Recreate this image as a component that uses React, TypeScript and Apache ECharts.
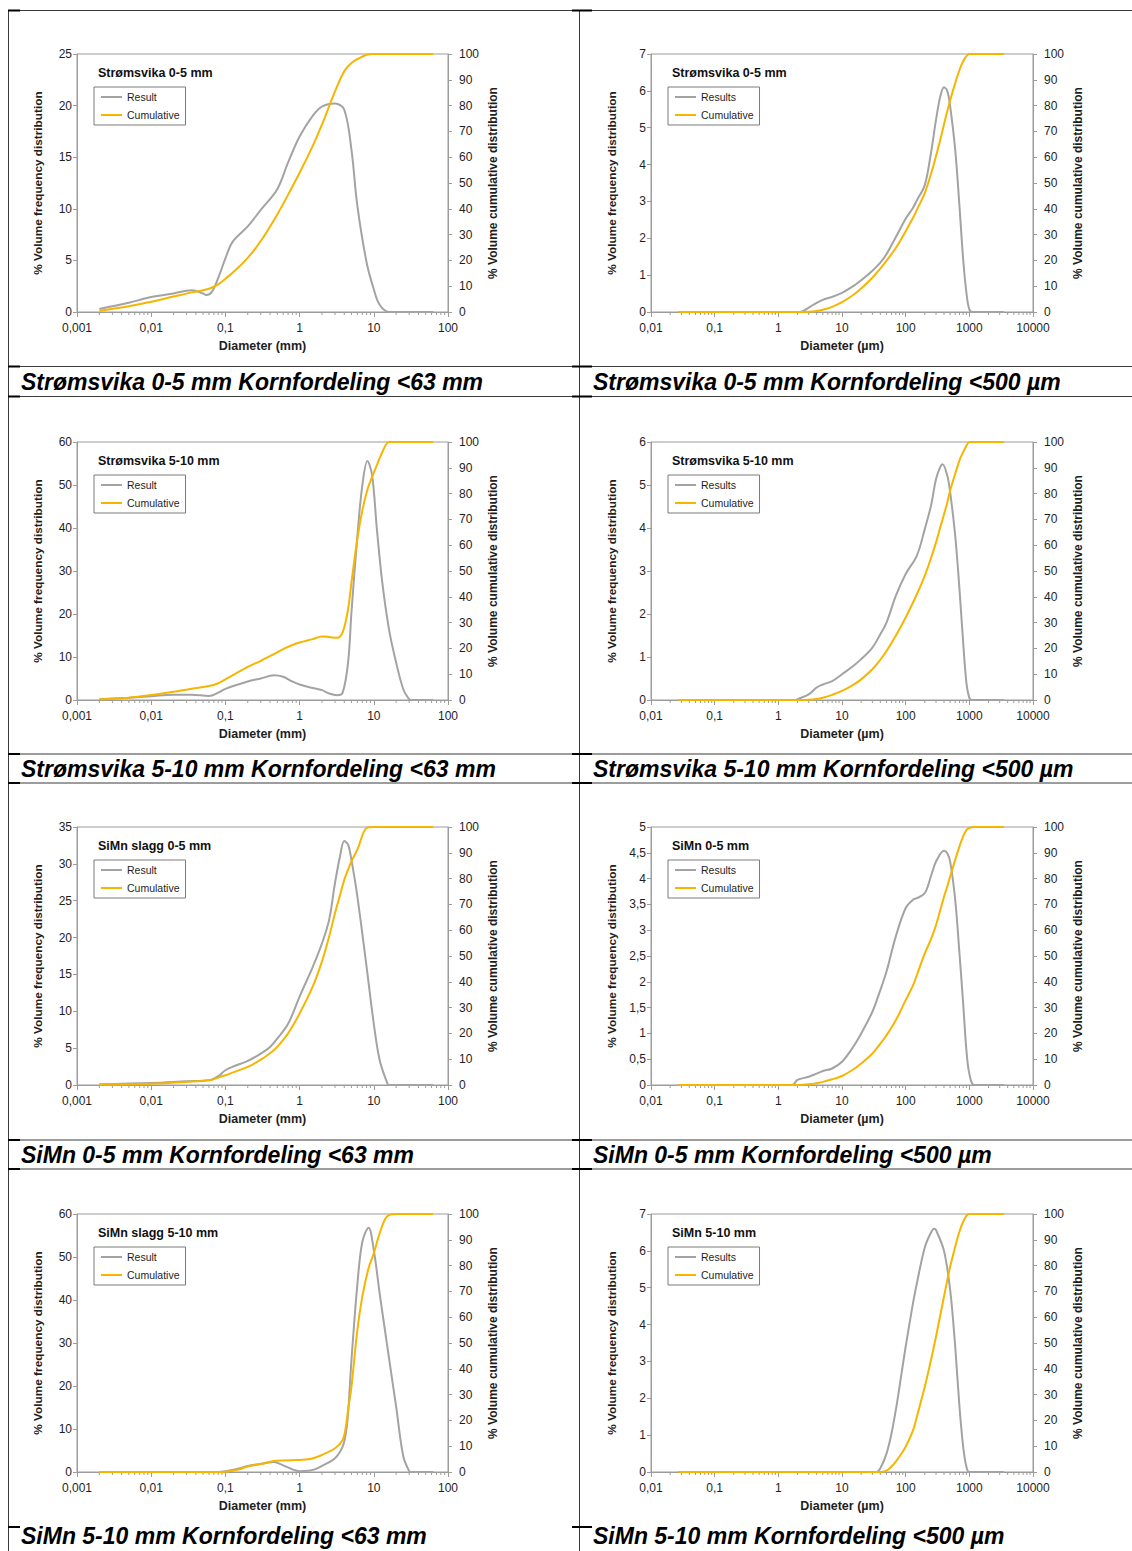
import React, { useEffect, useRef } from "react";
import * as echarts from "echarts";

// ---------- DATA ----------
// Panel 1: Strømsvika 0-5 mm, <63 mm (diameter in mm)
const x1 = [0.002, 0.005, 0.01, 0.02, 0.035, 0.05, 0.055, 0.065, 0.08, 0.1, 0.125, 0.2, 0.3, 0.5, 0.7, 1, 1.5, 2, 3, 4, 5, 6, 8, 10, 12, 16, 20, 31.5, 63];
const result1 = [0.3, 0.9, 1.45, 1.8, 2.1, 1.8, 1.65, 1.9, 3.3, 5.2, 6.8, 8.3, 9.9, 11.9, 14.5, 17.0, 19.0, 19.9, 20.2, 19.6, 15.7, 10.3, 4.8, 2.2, 0.7, 0, 0, 0, 0];
const cumulative1 = [0.5, 2.2, 4.0, 6.0, 7.6, 8.4, 8.7, 9.4, 10.7, 12.9, 15.2, 21, 27.5, 37.8, 45.5, 54, 64.3, 72.6, 85.5, 93.3, 96.5, 98, 99.7, 100, 100, 100, 100, 100, 100];

// Panel 2: Strømsvika 0-5 mm, <500 µm (diameter in µm)
const x2 = [0.027, 2.2, 3, 4, 5, 7, 10, 15, 20, 30, 40, 50, 70, 100, 130, 150, 200, 250, 300, 350, 400, 450, 500, 600, 700, 800, 900, 1000, 1130, 3500];
const result2 = [0, 0, 0.12, 0.25, 0.33, 0.41, 0.52, 0.7, 0.86, 1.12, 1.34, 1.57, 2.03, 2.53, 2.82, 3.03, 3.45, 4.32, 5.22, 5.85, 6.1, 6.0, 5.58, 4.4, 2.87, 1.43, 0.52, 0.07, 0, 0];
const cumulative2 = [0, 0, 0.1, 0.4, 0.9, 2.0, 3.8, 6.6, 9.1, 13.3, 16.8, 19.9, 24.8, 31.3, 36.4, 39.6, 46.2, 53.5, 60.5, 66.8, 72.8, 77.8, 82.1, 88.7, 93.8, 97.2, 99.2, 100, 100, 100];

// Panel 3: Strømsvika 5-10 mm, <63 mm
const x3 = [0.002, 0.005, 0.01, 0.02, 0.035, 0.06, 0.08, 0.1, 0.2, 0.3, 0.45, 0.6, 0.8, 1, 1.5, 2, 2.5, 3.2, 3.8, 4.5, 5, 6, 7, 8.2, 9.5, 11, 13, 16, 20, 25, 30, 32, 63];
const result3 = [0.15, 0.55, 0.9, 1.25, 1.25, 0.93, 1.7, 2.6, 4.3, 5.0, 5.75, 5.4, 4.3, 3.6, 2.8, 2.3, 1.5, 1.1, 1.7, 8.7, 20.4, 38, 49.9, 55.6, 52.2, 39.8, 27.4, 16.5, 8.7, 2.5, 0.15, 0, 0];
const cumulative3 = [0.3, 0.9, 1.9, 3.2, 4.4, 5.4, 6.5, 8.0, 12.8, 15.2, 17.8, 19.7, 21.3, 22.3, 23.6, 24.6, 24.4, 24.1, 26.2, 35.2, 45.6, 62.4, 73.4, 81.5, 86.5, 91, 96, 100, 100, 100, 100, 100, 100];

// Panel 4: Strømsvika 5-10 mm, <500 µm
const x4 = [0.027, 1.9, 2, 3, 4, 5, 7, 10, 15, 20, 30, 40, 50, 70, 100, 150, 200, 250, 300, 350, 380, 450, 500, 600, 700, 800, 900, 1000, 1100, 3500];
const result4 = [0, 0, 0.02, 0.13, 0.29, 0.36, 0.44, 0.6, 0.79, 0.95, 1.22, 1.53, 1.8, 2.42, 2.93, 3.36, 3.98, 4.52, 5.14, 5.42, 5.48, 5.22, 4.83, 3.82, 2.58, 1.34, 0.4, 0.05, 0, 0];
const cumulative4 = [0, 0, 0, 0.1, 0.4, 0.9, 2, 3.5, 5.9, 8.0, 11.9, 15.6, 19.0, 24.9, 32, 41, 48.2, 55, 61.1, 67, 70, 76.5, 81.2, 87.7, 92.9, 96.1, 98.5, 100, 100, 100];

// Panel 5: SiMn slagg 0-5 mm, <63 mm
const x5 = [0.002, 0.01, 0.03, 0.06, 0.08, 0.1, 0.13, 0.2, 0.3, 0.4, 0.5, 0.7, 1, 1.5, 2, 2.5, 3, 3.5, 4, 4.5, 5, 6, 8, 10, 12, 15, 16, 63];
const result5 = [0.1, 0.27, 0.5, 0.63, 1.2, 2.0, 2.54, 3.26, 4.26, 5.17, 6.3, 8.3, 12.0, 16.0, 19.2, 22.4, 27.4, 31.0, 33.1, 32.6, 30.5, 25.6, 16.0, 8.3, 3.35, 0.4, 0, 0];
const cumulative5 = [0.1, 0.5, 1.2, 1.8, 2.85, 3.76, 5.0, 7.0, 9.8, 12.3, 14.8, 20, 27.7, 38.1, 47.8, 57.5, 66.6, 73.5, 79.5, 83.5, 86.7, 91.2, 99.6, 100, 100, 100, 100, 100];

// Panel 6: SiMn 0-5 mm, <500 µm
const x6 = [0.027, 1.65, 2, 3, 4, 5, 7, 10, 15, 20, 30, 40, 50, 70, 100, 130, 150, 200, 250, 300, 400, 450, 500, 600, 700, 800, 900, 1000, 1200, 3500];
const result6 = [0, 0, 0.1, 0.16, 0.22, 0.27, 0.32, 0.45, 0.74, 1.0, 1.42, 1.84, 2.2, 2.88, 3.43, 3.59, 3.62, 3.72, 4.05, 4.33, 4.54, 4.49, 4.33, 3.59, 2.55, 1.58, 0.67, 0.22, 0, 0];
const cumulative6 = [0, 0, 0, 0.25, 0.7, 1.2, 2.2, 3.5, 6, 8.3, 12.2, 16, 19.3, 25.1, 32.9, 38.5, 42.6, 51, 56.5, 62, 73, 77, 80.8, 87.3, 92.5, 96.4, 98.8, 99.6, 100, 100];

// Panel 7: SiMn slagg 5-10 mm, <63 mm
const x7 = [0.002, 0.08, 0.1, 0.15, 0.2, 0.3, 0.45, 0.6, 0.8, 1, 1.3, 1.6, 2, 3, 3.8, 4.2, 4.5, 5, 6, 7, 8.5, 10, 12, 15, 20, 25, 30, 32, 63];
const result7 = [0, 0, 0.15, 0.8, 1.4, 1.9, 2.3, 1.55, 0.6, 0.2, 0.3, 0.6, 1.4, 3.2, 5.9, 9, 13.6, 26, 43.5, 53.5, 56.8, 51.6, 41.5, 29.9, 15.2, 3.6, 0.2, 0, 0];
const cumulative7 = [0, 0, 0.1, 1.0, 2.1, 3.1, 4.3, 4.5, 4.6, 4.65, 4.9, 5.5, 6.6, 9.2, 12.4, 17.6, 24, 33.1, 55.0, 68, 79, 84.8, 92.5, 99, 100, 100, 100, 100, 100];

// Panel 8: SiMn 5-10 mm, <500 µm
const x8 = [0.027, 35, 40, 50, 60, 70, 80, 100, 130, 150, 200, 250, 280, 300, 400, 500, 600, 700, 800, 900, 1000, 3500];
const result8 = [0, 0, 0.1, 0.5, 1.05, 1.68, 2.31, 3.4, 4.57, 5.12, 6.1, 6.5, 6.6, 6.56, 6.0, 4.94, 3.4, 1.77, 0.69, 0.14, 0, 0];
const cumulative8 = [0, 0, 0, 0.5, 2.1, 4.0, 6.0, 9.8, 16, 21.4, 33.1, 43.4, 49, 52.5, 68, 79.6, 87.3, 93.2, 97, 99.3, 100, 100];

const titles = ["Strømsvika 0-5 mm", "Strømsvika 0-5 mm", "Strømsvika 5-10 mm", "Strømsvika 5-10 mm", "SiMn slagg 0-5 mm", "SiMn 0-5 mm", "SiMn slagg 5-10 mm", "SiMn 5-10 mm"];
const captions = [
  "Strømsvika 0-5 mm Kornfordeling <63 mm",
  "Strømsvika 0-5 mm Kornfordeling <500 µm",
  "Strømsvika 5-10 mm Kornfordeling <63 mm",
  "Strømsvika 5-10 mm Kornfordeling <500 µm",
  "SiMn 0-5 mm Kornfordeling <63 mm",
  "SiMn 0-5 mm Kornfordeling <500 µm",
  "SiMn 5-10 mm Kornfordeling <63 mm",
  "SiMn 5-10 mm Kornfordeling <500 µm",
];
const leftMax = [25, 7, 60, 6, 35, 5, 60, 7];
const leftInterval = [5, 1, 10, 1, 5, 0.5, 10, 1];
const xData = [x1, x2, x3, x4, x5, x6, x7, x8];
const resultData = [result1, result2, result3, result4, result5, result6, result7, result8];
const cumulativeData = [cumulative1, cumulative2, cumulative3, cumulative4, cumulative5, cumulative6, cumulative7, cumulative8];

// ---------- STYLE / LAYOUT ----------
const FONT = '"Liberation Sans", Arial, Helvetica, sans-serif';
const GRAY = "#a3a3a3";
const ORANGE = "#F7B500";
const AXIS = "#9c9c9c";
const TEXT = "#1e1e1e";
const LINE = "#3a3a3a";

const colLeft = [77, 651];
const colWidth = [371, 382];
const rowTop = [54, 442, 827, 1214];
const plotH = 258;
const captionY = [381.5, 768.5, 1154.5, 1536];
const captionX = [21, 593];
const hLines = [10.5, 366.5, 396.5, 754, 783, 1140, 1169];

function fmtLog(v: number) {
  const e = Math.round(Math.log10(v));
  return e < 0 ? "0," + "0".repeat(-e - 1) + "1" : "1" + "0".repeat(e);
}
function fmtComma(v: number) {
  return String(v).replace(".", ",");
}
function minorTicks(min: number, max: number) {
  const out: number[] = [];
  for (let e = Math.round(Math.log10(min)); e < Math.round(Math.log10(max)); e++) {
    for (let m = 2; m <= 9; m++) out.push(+(m * Math.pow(10, e)).toPrecision(6));
  }
  return out;
}

function buildOption() {
  const grid: any[] = [];
  const xAxis: any[] = [];
  const yAxis: any[] = [];
  const series: any[] = [];
  const legend: any[] = [];
  const elements: any[] = [];

  for (let i = 0; i < 8; i++) {
    const col = i % 2;
    const row = Math.floor(i / 2);
    const left = colLeft[col];
    const top = rowTop[row];
    const width = colWidth[col];
    const isMm = col === 0;
    const xmin = isMm ? 0.001 : 0.01;
    const xmax = isMm ? 100 : 10000;
    const resName = isMm ? "Result" : "Results";

    grid.push({ left, top, width, height: plotH, show: true, borderColor: AXIS, borderWidth: 1, backgroundColor: "transparent" });

    xAxis.push({
      type: "log",
      logBase: 10,
      gridIndex: i,
      min: xmin,
      max: xmax,
      name: isMm ? "Diameter (mm)" : "Diameter (µm)",
      nameLocation: "middle",
      nameGap: 27,
      nameTextStyle: { fontWeight: "bold", fontSize: 12.5, color: TEXT, fontFamily: FONT },
      axisLine: { show: true, onZero: false, lineStyle: { color: AXIS, width: 1 } },
      axisTick: { show: true, length: 5, inside: false, lineStyle: { color: AXIS } },
      axisLabel: { formatter: fmtLog, fontSize: 12, color: TEXT, margin: 10, fontFamily: FONT },
      splitLine: { show: false },
    });

    yAxis.push({
      type: "value",
      gridIndex: i,
      position: "left",
      min: 0,
      max: leftMax[i],
      interval: leftInterval[i],
      name: "% Volume frequency distribution",
      nameLocation: "middle",
      nameGap: 33,
      nameTextStyle: { fontWeight: "bold", fontSize: 11.8, color: TEXT, fontFamily: FONT },
      axisLine: { show: true, lineStyle: { color: AXIS } },
      axisTick: { show: true, length: 4, lineStyle: { color: AXIS } },
      axisLabel: { fontSize: 12, color: TEXT, margin: 5, formatter: fmtComma, fontFamily: FONT },
      splitLine: { show: false },
    });
    yAxis.push({
      type: "value",
      gridIndex: i,
      position: "right",
      min: 0,
      max: 100,
      interval: 10,
      name: "% Volume cumulative distribution",
      nameLocation: "middle",
      nameGap: 39,
      nameTextStyle: { fontWeight: "bold", fontSize: 12, color: TEXT, fontFamily: FONT },
      axisLine: { show: true, lineStyle: { color: AXIS } },
      axisTick: { show: true, length: 4, lineStyle: { color: AXIS } },
      axisLabel: { fontSize: 12, color: TEXT, margin: 11, fontFamily: FONT },
      splitLine: { show: false },
    });

    const xs = xData[i];
    series.push({
      type: "line",
      name: resName,
      xAxisIndex: i,
      yAxisIndex: 2 * i,
      data: xs.map((v, j) => [v, resultData[i][j]]),
      symbol: "none",
      smooth: 0.35,
      lineStyle: { color: GRAY, width: 2 },
      itemStyle: { color: GRAY },
      z: 3,
    });
    series.push({
      type: "line",
      name: "Cumulative",
      xAxisIndex: i,
      yAxisIndex: 2 * i + 1,
      data: xs.map((v, j) => [v, cumulativeData[i][j]]),
      symbol: "none",
      smooth: 0.35,
      lineStyle: { color: ORANGE, width: 2 },
      itemStyle: { color: ORANGE },
      z: 4,
    });
    series.push({
      type: "custom",
      name: "minor" + i,
      xAxisIndex: i,
      yAxisIndex: 2 * i,
      silent: true,
      clip: false,
      encode: { x: 0, y: 1 },
      data: minorTicks(xmin, xmax).map((v) => [v, 0]),
      renderItem: (_params: any, api: any) => {
        const p = api.coord([api.value(0), 0]);
        return {
          type: "line",
          shape: { x1: p[0], y1: p[1], x2: p[0], y2: p[1] + 3 },
          style: { stroke: AXIS, lineWidth: 1 },
        };
      },
      z: 2,
    });

    legend.push({
      left: left + 17,
      top: top + 33,
      orient: "vertical",
      data: [resName, "Cumulative"],
      icon: "rect",
      itemWidth: 21,
      itemHeight: 2,
      itemGap: 6,
      padding: [4, 6, 4, 7],
      borderColor: "#7a7a7a",
      borderWidth: 1,
      backgroundColor: "#fff",
      selectedMode: false,
      textStyle: { fontSize: 10.5, color: TEXT, fontFamily: FONT, lineHeight: 12 },
    });

    elements.push({
      type: "text",
      x: left + 21,
      y: top + 18.5,
      z: 20,
      style: {
        text: titles[i],
        fontSize: 12.5,
        fontWeight: "bold",
        fontFamily: FONT,
        fill: "#111",
        verticalAlign: "middle",
        textVerticalAlign: "middle",
      },
    });
    elements.push({
      type: "text",
      x: captionX[col],
      y: captionY[row],
      z: 20,
      style: {
        text: captions[i],
        fontSize: 23,
        fontWeight: "bold",
        fontStyle: "italic",
        fontFamily: FONT,
        fill: "#000",
        verticalAlign: "middle",
        textVerticalAlign: "middle",
      },
    });
  }

  // table lines
  hLines.forEach((y) => {
    elements.push({ type: "line", z: 15, shape: { x1: 8, y1: y, x2: 1132, y2: y }, style: { stroke: LINE, lineWidth: 1 } });
  });
  [...hLines, 1527].forEach((y) => {
    elements.push({ type: "line", z: 16, shape: { x1: 8, y1: y, x2: 20, y2: y }, style: { stroke: "#000", lineWidth: 2 } });
    elements.push({ type: "line", z: 16, shape: { x1: 572, y1: y, x2: 592, y2: y }, style: { stroke: "#000", lineWidth: 2 } });
  });
  elements.push({ type: "line", z: 15, shape: { x1: 8.5, y1: 10, x2: 8.5, y2: 1551 }, style: { stroke: LINE, lineWidth: 1 } });
  elements.push({ type: "line", z: 15, shape: { x1: 579.5, y1: 10, x2: 579.5, y2: 1551 }, style: { stroke: LINE, lineWidth: 1 } });

  return {
    animation: false,
    backgroundColor: "#fff",
    textStyle: { fontFamily: FONT },
    grid,
    xAxis,
    yAxis,
    series,
    legend,
    graphic: { elements },
  };
}

export default function App() {
  const ref = useRef<HTMLDivElement>(null);
  useEffect(() => {
    if (!ref.current) return;
    const chart = echarts.init(ref.current, null, { renderer: "svg", width: 1132, height: 1551 });
    chart.setOption(buildOption() as any);
    return () => chart.dispose();
  }, []);
  return (
    <div
      ref={ref}
      style={{ position: "absolute", left: 0, top: 0, width: 1132, height: 1551, background: "#fff" }}
    />
  );
}
